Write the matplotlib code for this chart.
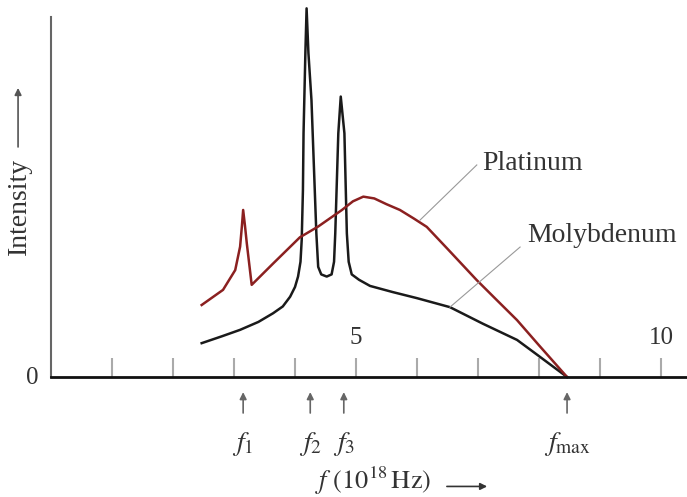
import matplotlib.pyplot as plt

plt.rcParams['font.family'] = 'Liberation Serif'
plt.rcParams['mathtext.fontset'] = 'stix'

# Molybdenum spectrum (frequency in 1e18 Hz, relative intensity 0-100)
moly_f = [2.47, 2.80, 3.10, 3.40, 3.64, 3.80, 3.92, 4.00, 4.05, 4.09, 4.11,
          4.13, 4.14, 4.17, 4.19, 4.22, 4.27, 4.31, 4.35, 4.38, 4.43, 4.52,
          4.60, 4.64, 4.66, 4.71, 4.75, 4.81, 4.85, 4.88, 4.93, 5.05, 5.23,
          5.60, 6.00, 6.54, 7.08, 7.64, 7.96, 8.46]
moly_i = [9.4, 11.3, 13.1, 15.3, 17.7, 19.6, 22.3, 25.0, 27.9, 32.0, 38.1,
          51.9, 67.7, 90.0, 102.4, 90.0, 76.9, 58.4, 39.9, 30.6, 28.5, 27.9,
          28.5, 32.0, 39.9, 67.7, 77.9, 67.7, 39.9, 32.0, 28.5, 27.0, 25.3,
          23.6, 21.9, 19.4, 14.8, 10.3, 6.3, 0.0]

# Platinum spectrum
plat_f = [2.47, 2.82, 3.02, 3.10, 3.13, 3.15, 3.18, 3.21, 3.29, 3.64, 4.08,
          4.38, 4.77, 4.95, 5.12, 5.30, 5.50, 5.72, 5.95, 6.16, 6.50, 6.98,
          7.30, 7.64, 8.00, 8.46]
plat_i = [20.0, 24.2, 29.7, 36.2, 42.0, 46.4, 42.0, 37.1, 25.6, 31.5, 38.8,
          41.8, 46.4, 48.8, 50.1, 49.6, 48.0, 46.4, 44.0, 41.7, 35.6, 26.9,
          21.5, 15.8, 8.8, 0.0]

marker_f = [3.15, 4.25, 4.80, 8.46]
marker_lbl = [r'$f_1$', r'$f_2$', r'$f_3$', r'$f_{\mathrm{max}}$']

fig = plt.figure(figsize=(6.87, 4.97), dpi=100)
ax = fig.add_axes([51/687, 120/497, 636/687, 360/497])

ax.plot(moly_f, moly_i, color='#1a1a1a', lw=1.8, clip_on=False,
        solid_joinstyle='round')
ax.plot(plat_f, plat_i, color='#8b2020', lw=1.8, clip_on=False,
        solid_joinstyle='round')

ax.set_xlim(0, 636/61)
ax.set_ylim(0, 100)

for s in ['top', 'right']:
    ax.spines[s].set_visible(False)
ax.spines['left'].set_color('#666666')
ax.spines['left'].set_linewidth(1.5)
ax.spines['bottom'].set_color('#111111')
ax.spines['bottom'].set_linewidth(2)

ax.set_xticks(range(1, 11))
ax.set_xticklabels([])
ax.tick_params(axis='x', direction='in', length=14, width=1.5, color='#aaaaaa')
ax.set_yticks([])

ax.text(5, 10.8, '5', ha='center', va='center', fontsize=18, color='#333333')
ax.text(10, 10.8, '10', ha='center', va='center', fontsize=18, color='#333333')
ax.text(-0.30, -0.3, '0', ha='center', va='center', fontsize=18, color='#333333')

for f, lbl in zip(marker_f, marker_lbl):
    ax.annotate('', xy=(f, -4.2), xytext=(f, -10),
                arrowprops=dict(arrowstyle='-|>', color='#666666', lw=1.2,
                                mutation_scale=10, shrinkA=0, shrinkB=0),
                annotation_clip=False)
    ax.text(f, -18.5, lbl, ha='center', va='center', fontsize=20,
            color='#333333')

ax.text(5.28, -28.8, r'$f\ (10^{18}\,\mathrm{Hz})$', ha='center', va='center',
        fontsize=19, color='#333333')
ax.annotate('', xy=(7.15, -30.4), xytext=(6.49, -30.4),
            arrowprops=dict(arrowstyle='-|>', color='#333333', lw=1.2,
                            mutation_scale=10, shrinkA=0, shrinkB=0),
            annotation_clip=False)

ax.text(-0.51, 47.5, 'Intensity', rotation=90, ha='center', va='center',
        fontsize=20, color='#333333')
ax.annotate('', xy=(-0.54, 80.3), xytext=(-0.54, 63.9),
            arrowprops=dict(arrowstyle='-|>', color='#555555', lw=1.2,
                            mutation_scale=10, shrinkA=0, shrinkB=0),
            annotation_clip=False)

ax.text(7.07, 59.4, 'Platinum', ha='left', va='center', fontsize=20,
        color='#333333')
ax.plot([6.98, 6.05], [58.9, 43.6], color='#999999', lw=0.8)
ax.text(7.80, 39.2, 'Molybdenum', ha='left', va='center', fontsize=20,
        color='#333333')
ax.plot([7.69, 6.54], [36.1, 19.4], color='#999999', lw=0.8)

fig.savefig('out.png', dpi=100)
